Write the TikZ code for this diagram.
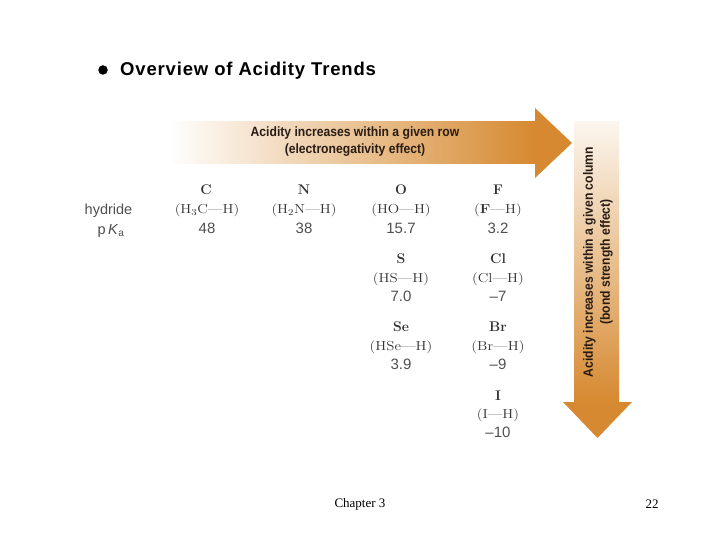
\documentclass[tikz,border=0pt]{standalone}
\usepackage{fontspec}
\newfontfamily\arialf{Liberation Sans}
\newfontfamily\arialsp[LetterSpace=4.5]{Liberation Sans}
\newfontfamily\timesf{Liberation Serif}
\usepackage{graphicx}
\definecolor{orng}{RGB}{214,137,48}
\definecolor{txtdark}{RGB}{40,28,20}
\definecolor{tgray}{RGB}{50,50,50}
\definecolor{ngray}{RGB}{80,80,80}
\newcommand{\wdx}[1]{\scalebox{1.15}[1]{#1}}
\newcommand{\cond}[1]{\scalebox{0.9}[1]{#1}}
\begin{document}
\begin{tikzpicture}[x=1pt,y=-1pt,
  elem/.style={font=\fontsize{14}{14}\selectfont\bfseries, text=tgray, inner sep=0pt},
  form/.style={font=\fontsize{13}{13}\selectfont, text=tgray, inner sep=0pt},
  num/.style={font=\arialf\fontsize{15}{15}\selectfont, text=ngray, inner sep=0pt},
  lab/.style={font=\arialf\fontsize{14.5}{15}\selectfont, text=ngray, inner sep=0pt},
  arrtxt/.style={font=\arialf\bfseries\fontsize{13.5}{17}\selectfont, text=txtdark, inner sep=0pt, align=center}]
\useasboundingbox (0,0) rectangle (720,540);
\fill[white] (0,0) rectangle (720,540);
% title
\node[circle, fill=black, inner sep=0pt, minimum size=9.5pt] (bul) at (103,70) {};
\node[anchor=west, font=\arialsp\bfseries\fontsize{18.5}{19}\selectfont, inner sep=0pt] (title) at (120,70.5) {Overview of Acidity Trends};
% horizontal arrow
\shade[left color=white, right color=orng] (168,122) rectangle (536,164);
\fill[orng] (535,108) -- (572,143) -- (535,178) -- cycle;
\node[arrtxt] (htxt) at (355,142) {\cond{Acidity increases within a given row}\\\cond{(electronegativity effect)}};
% vertical arrow
\shade[top color=orng!8, bottom color=orng] (574,122) rectangle (619,403);
\fill[orng] (563,402) -- (632,402) -- (597.5,438) -- cycle;
\node[arrtxt, rotate=90] (vtxt) at (598,262) {\cond{Acidity increases within a given column}\\\cond{(bond strength effect)}};
% labels
\node[lab] (hyd) at (108.5,211) {hydride};
\node[lab] (pka) at (111,231) {p\,\textit{K}\textsubscript{a}};
% row 1
\node[elem] (C) at (206,190) {C};
\node[form] (Cf) at (207,210) {\wdx{(H\textsubscript{3}C---H)}};
\node[num] (Cn) at (207,228) {48};
\node[elem] (N) at (304,190) {N};
\node[form] (Nf) at (304,210) {\wdx{(H\textsubscript{2}N---H)}};
\node[num] (Nn) at (304,228) {38};
\node[elem] (O) at (401,190) {O};
\node[form] (Of) at (401,210) {\wdx{(HO---H)}};
\node[num] (On) at (401,228) {15.7};
\node[elem] (F) at (498,190) {F};
\node[form] (Ff) at (498,210) {\wdx{(\textbf{F}---H)}};
\node[num] (Fn) at (498,228) {3.2};
% row 2
\node[elem] (S) at (401,259) {S};
\node[form] (Sf) at (401,279) {\wdx{(HS---H)}};
\node[num] (Sn) at (401,296) {7.0};
\node[elem] (Cl) at (498,259) {Cl};
\node[form] (Clf) at (498,279) {\wdx{(Cl---H)}};
\node[num] (Cln) at (498,296) {\textendash7};
% row 3
\node[elem] (Se) at (401,327) {Se};
\node[form] (Sef) at (401,347) {\wdx{(HSe---H)}};
\node[num] (Sen) at (401,364) {3.9};
\node[elem] (Br) at (498,327) {Br};
\node[form] (Brf) at (498,347) {\wdx{(Br---H)}};
\node[num] (Brn) at (498,364) {\textendash9};
% row 4
\node[elem] (I) at (498,396) {I};
\node[form] (If) at (498,415) {\wdx{(I---H)}};
\node[num] (In) at (498,432) {\textendash10};
% footer
\node[font=\timesf\fontsize{13}{13}\selectfont, inner sep=0pt] (chap) at (360,504) {Chapter 3};
\node[font=\timesf\fontsize{13}{13}\selectfont, inner sep=0pt] (page) at (652,504) {22};
\end{tikzpicture}
\end{document}
